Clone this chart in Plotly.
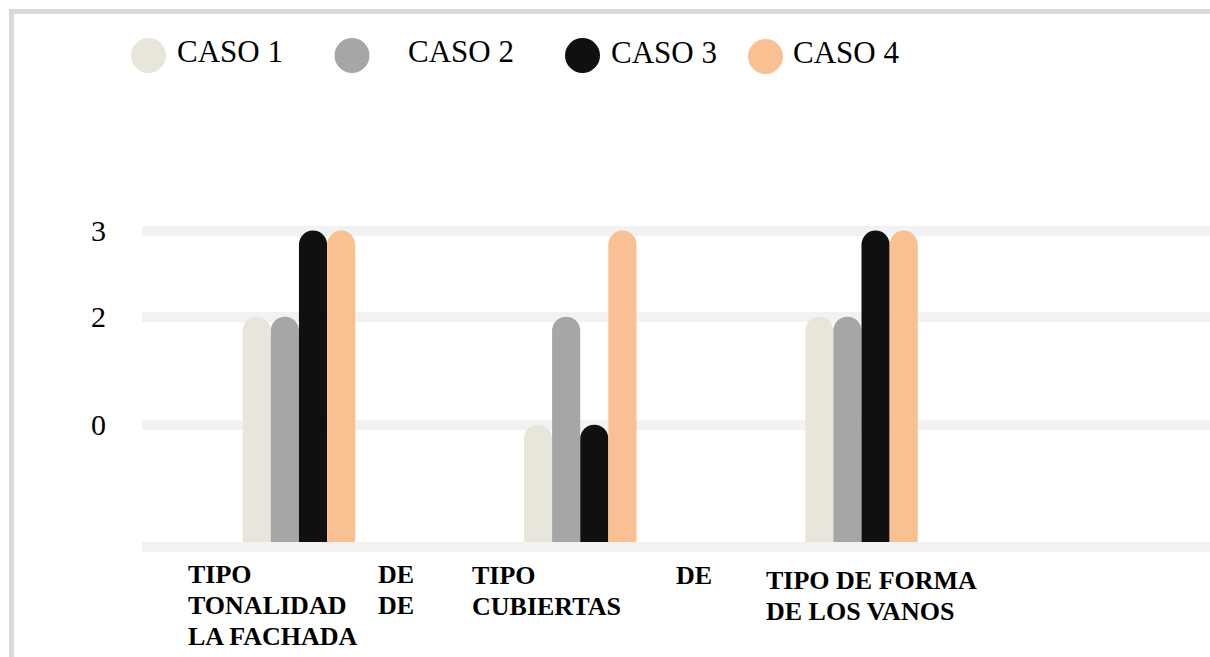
import plotly.graph_objects as go

# ---- data -------------------------------------------------------------
SERIES = ["CASO 1", "CASO 2", "CASO 3", "CASO 4"]
CASO_1 = [2, 0, 2]
CASO_2 = [2, 2, 2]
CASO_3 = [3, 0, 3]
CASO_4 = [3, 3, 3]

# category labels, broken into the lines they are printed on
# (a line with two chunks is justified across the label box)
CATEGORY_LINES = [
    [["TIPO", "DE"], ["TONALIDAD", "DE"], ["LA FACHADA"]],
    [["TIPO", "DE"], ["CUBIERTAS"]],
    [["TIPO DE FORMA"], ["DE LOS VANOS"]],
]
CATEGORIES = [" ".join(" ".join(line) for line in lines) for lines in CATEGORY_LINES]

# value axis: printed tick labels and where their gridlines sit
Y_TICK_TEXT = ["0", "2", "3"]
Y_TICK_POS = [1.13, 2.17, 3.0]

# ---- styling ----------------------------------------------------------
COLORS = ["#e8e6db", "#a6a6a6", "#101010", "#f9c191"]
FONT = "Liberation Serif, Times New Roman, serif"
W, H = 1210, 657
M_L, M_R, M_T, M_B = 142, 0, 140, 115
PLOT_W = W - M_L - M_R
PLOT_H = H - M_T - M_B


def px_x(px):
    return (px - M_L) / PLOT_W


def px_y(py):
    return (H - M_B - py) / PLOT_H


def level_pos(v):
    return Y_TICK_POS[Y_TICK_TEXT.index(str(v))]


fig = go.Figure()
for name, vals, col in zip(SERIES, [CASO_1, CASO_2, CASO_3, CASO_4], COLORS):
    fig.add_trace(go.Bar(
        name=name,
        x=CATEGORIES,
        y=[level_pos(v) for v in vals],
        customdata=vals,
        hovertemplate="%{x}<br>" + name + ": %{customdata}<extra></extra>",
        marker=dict(color=col, line=dict(width=0)),
    ))

# ---- category labels under the axis ------------------------------------
LABEL_BOX = [(-113, 117), (-110, 134), (-98, 117)]   # px from group centre
LABEL_TOP = [574, 575, 580]                          # centre of first line, px
LINE_STEP = 31
annotations = []
for cat, lines, (bl, br), top in zip(CATEGORIES, CATEGORY_LINES, LABEL_BOX, LABEL_TOP):
    for i, chunks in enumerate(lines):
        ys = -(top + i * LINE_STEP - (H - M_B))
        annotations.append(dict(
            x=cat, xref="x", y=0, yref="paper", xanchor="left", yanchor="middle",
            xshift=bl, yshift=ys, text="<b>%s</b>" % chunks[0], showarrow=False,
            font=dict(family=FONT, size=26, color="#000000")))
        if len(chunks) > 1:
            annotations.append(dict(
                x=cat, xref="x", y=0, yref="paper", xanchor="right", yanchor="middle",
                xshift=br, yshift=ys, text="<b>%s</b>" % chunks[-1], showarrow=False,
                font=dict(family=FONT, size=26, color="#000000")))

# ---- legend: round swatches with their names ----------------------------
LEG_DOT_X = [148.5, 352, 582.5, 765.5]
LEG_DOT_Y = [55.5, 55.5, 55.5, 56.5]
LEG_TEXT_X = [175, 406, 609, 791]
LEG_TEXT_Y = [51, 51, 52, 53]
DOT_R = 17.5
shapes = []
for name, col, dx, dy, tx, ty in zip(SERIES, COLORS, LEG_DOT_X, LEG_DOT_Y, LEG_TEXT_X, LEG_TEXT_Y):
    shapes.append(dict(
        type="circle", xref="paper", yref="paper",
        x0=px_x(dx - DOT_R), x1=px_x(dx + DOT_R),
        y0=px_y(dy + DOT_R), y1=px_y(dy - DOT_R),
        fillcolor=col, line=dict(width=0)))
    annotations.append(dict(
        x=px_x(tx), y=px_y(ty), xref="paper", yref="paper",
        xanchor="left", yanchor="middle", text=name, showarrow=False,
        font=dict(family=FONT, size=31, color="#000000")))

# frame round the chart
shapes.append(dict(
    type="rect", xref="paper", yref="paper", layer="above",
    x0=px_x(11.5), x1=px_x(W + 50), y0=px_y(H + 50), y1=px_y(11.5),
    line=dict(color="#d9d9d9", width=5), fillcolor="rgba(0,0,0,0)"))

fig.update_layout(
    width=W, height=H,
    margin=dict(l=M_L, r=M_R, t=M_T, b=M_B, pad=0),
    paper_bgcolor="#ffffff", plot_bgcolor="#ffffff",
    barmode="group", bargap=0.6, bargroupgap=0,
    barcornerradius="50%",
    showlegend=False,
    shapes=shapes,
    annotations=annotations,
    xaxis=dict(
        type="category", range=[-0.558, 3.239],
        showticklabels=False, ticks="", showgrid=False, zeroline=False,
        showline=True, linecolor="#f2f2f2", linewidth=10,
    ),
    yaxis=dict(
        range=[0, PLOT_H / 103.8],
        tickmode="array", tickvals=Y_TICK_POS, ticktext=Y_TICK_TEXT,
        showgrid=True, gridcolor="#f2f2f2", gridwidth=10,
        zeroline=False, showline=False, ticks="",
        ticklabelstandoff=35,
        tickfont=dict(family=FONT, size=30, color="#000000"),
    ),
)

fig.write_html("out.html")
